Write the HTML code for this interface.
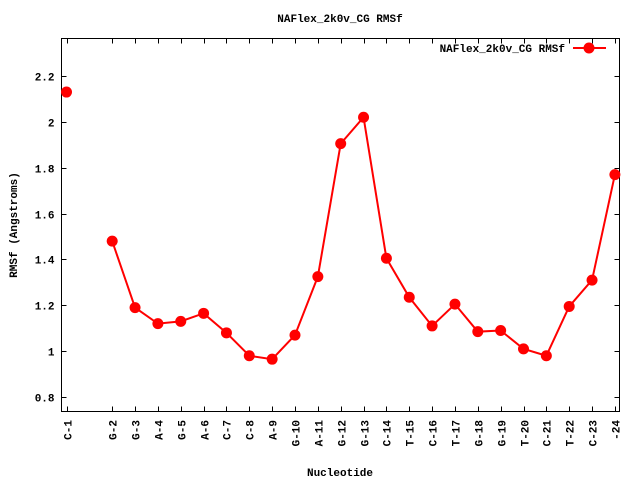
<!DOCTYPE html>
<html><head><meta charset="utf-8"><style>
body{margin:0;background:#fff}
svg{display:block}
text{font-family:"Liberation Mono",monospace;font-weight:bold;font-size:11px;fill:#000}
</style></head><body>
<svg id="chart" width="640" height="480">
<text x="340" y="22" text-anchor="middle">NAFlex_2k0v_CG RMSf</text>
<text x="340" y="476" text-anchor="middle">Nucleotide</text>
<text transform="translate(17,225) rotate(-90)" text-anchor="middle">RMSf (Angstroms)</text>
<rect x="61.5" y="38.5" width="558" height="373" fill="none" stroke="#000" stroke-width="1"/>
<g id="ticks"></g>
<g id="series"></g>
<g>
<text x="565" y="52" text-anchor="end">NAFlex_2k0v_CG RMSf</text>
<line x1="573" y1="48" x2="606" y2="48" stroke="#f00" stroke-width="2"/>
<circle cx="589" cy="48" r="5.5" fill="#f00"/>
</g>
</svg>
<script>
const categories=["C-1","G-2","G-3","A-4","G-5","A-6","C-7","C-8","A-9","G-10","A-11","G-12","G-13","C-14","T-15","C-16","T-17","G-18","G-19","T-20","C-21","T-22","C-23","-24"];
const positions=[0,2,3,4,5,6,7,8,9,10,11,12,13,14,15,16,17,18,19,20,21,22,23,24];
const values=[2.13,1.48,1.19,1.12,1.13,1.165,1.08,0.98,0.965,1.07,1.325,1.905,2.02,1.405,1.235,1.11,1.205,1.085,1.09,1.01,0.98,1.195,1.31,1.77];
const yTicks=[0.8,1,1.2,1.4,1.6,1.8,2,2.2];
const yTickLabels=["0.8","1","1.2","1.4","1.6","1.8","2","2.2"];
const segments=[[0,0],[1,23]];
const NS="http://www.w3.org/2000/svg";
const L=61.5,R=619.5,T=38.5,B=411.5;
function xs(p){return 66.5+p*22.85;}
function ys(v){return 76+(2.2-v)*229.3;}
function mk(tag,attrs,parent){const e=document.createElementNS(NS,tag);for(const k in attrs)e.setAttribute(k,attrs[k]);parent.appendChild(e);return e;}
const tg=document.getElementById('ticks');
yTicks.forEach((v,i)=>{const y=Math.round(ys(v))+0.5;
 const a=mk('line',{x1:L,y1:y,x2:L+5,y2:y,stroke:'#000'},tg);
 
 
 const b=mk('line',{x1:R-5,y1:y,x2:R,y2:y,stroke:'#000'},tg);
 
 
 const t=mk('text',{x:L-7,y:y+4,'text-anchor':'end'},tg);t.textContent=yTickLabels[i];
 
 
});
categories.forEach((c,i)=>{const x=Math.round(xs(positions[i]))+0.5;
 const a=mk('line',{x1:x,y1:B,x2:x,y2:B-5,stroke:'#000'},tg);
 
 
 const b=mk('line',{x1:x,y1:T,x2:x,y2:T+5,stroke:'#000'},tg);
 
 
 const t=mk('text',{transform:`translate(${x+4},420) rotate(-90)`,'text-anchor':'end'},tg);t.textContent=c;
 
 
});
const sg=document.getElementById('series');
segments.forEach(([s,e])=>{if(e>s){let pts=[];for(let i=s;i<=e;i++)pts.push(xs(positions[i])+','+ys(values[i]));
 const pl=mk('polyline',{points:pts.join(' '),fill:'none',stroke:'#f00','stroke-width':2},sg);
 
 }});
values.forEach((v,i)=>{const c=mk('circle',{cx:xs(positions[i]),cy:ys(v),r:5.5,fill:'#f00'},sg);
 
 });
</script>
</body></html>
